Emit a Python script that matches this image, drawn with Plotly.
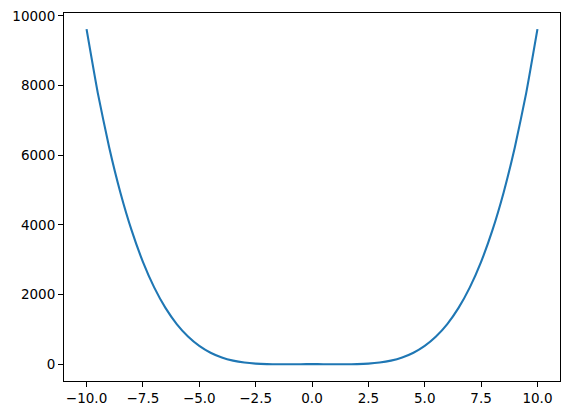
import plotly.graph_objects as go

x_vals = [-10.0, -9.5, -9.0, -8.5, -8.0, -7.5, -7.0, -6.5, -6.0, -5.5, -5.0, -4.5, -4.0, -3.5, -3.0, -2.5,
          -2.0, -1.5, -1.0, -0.5, 0.0, 0.5, 1.0, 1.5, 2.0, 2.5, 3.0, 3.5, 4.0, 4.5, 5.0, 5.5, 6.0, 6.5,
          7.0, 7.5, 8.0, 8.5, 9.0, 9.5, 10.0]
y_right = [0, -1, -3, -4, 0, 14, 45, 101, 192, 329, 525, 794, 1152, 1616, 2205, 2939, 3840, 4931, 6237, 7784, 9620]
y_vals = y_right[::-1] + y_right[1:]

x_ticks = [-10.0, -7.5, -5.0, -2.5, 0.0, 2.5, 5.0, 7.5, 10.0]
x_tick_labels = ["\u221210.0", "\u22127.5", "\u22125.0", "\u22122.5", "0.0", "2.5", "5.0", "7.5", "10.0"]
y_ticks = [0, 2000, 4000, 6000, 8000, 10000]
y_tick_labels = ["0", "2000", "4000", "6000", "8000", "10000"]

fig = go.Figure()
fig.add_trace(go.Scatter(x=x_vals, y=y_vals, mode="lines",
                         line=dict(color="#1f77b4", width=2.1, shape="spline", smoothing=0.5),
                         showlegend=False, hoverinfo="skip"))

axis_common = dict(showgrid=False, zeroline=False, showline=True, linecolor="black", linewidth=1.1,
                   mirror=True, ticks="outside", ticklen=5, tickwidth=1.1, tickcolor="black",
                   automargin=False, ticklabeloverflow="allow",
                   tickfont=dict(family="DejaVu Sans", size=13.5, color="black"))
fig.update_xaxes(range=[-11, 11], tickvals=x_ticks, ticktext=x_tick_labels, **axis_common)
fig.update_yaxes(range=[-484, 10084], tickvals=y_ticks, ticktext=y_tick_labels, **axis_common)

# page body has an 8px default margin, so the figure is offset by 8px right and down
fig.update_layout(width=569, height=415, margin=dict(l=56, r=17, t=5, b=42),
                  paper_bgcolor="white", plot_bgcolor="white")
fig.write_html("out.html")
